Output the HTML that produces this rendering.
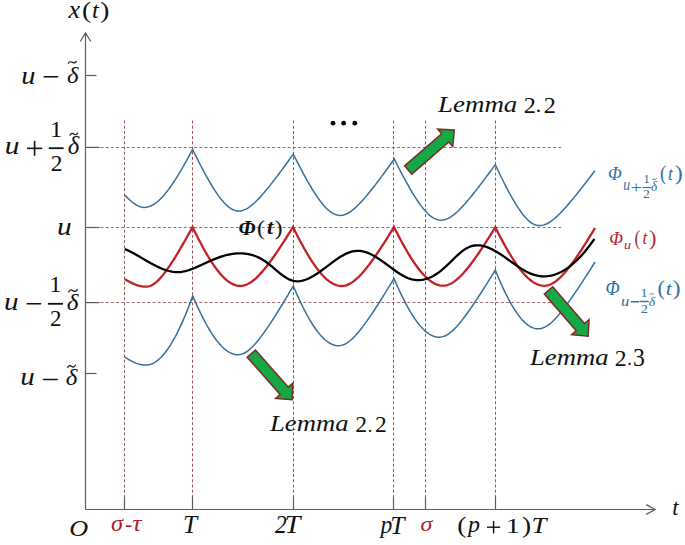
<!DOCTYPE html>
<html><head><meta charset="utf-8"><style>
html,body{margin:0;padding:0;background:#fff;}
body{width:685px;height:545px;overflow:hidden;}
svg{display:block;}
.dv{stroke:#9a5257;stroke-width:1;stroke-dasharray:3 2.2;fill:none;}
.dh{stroke:#a4666a;stroke-width:1;stroke-dasharray:3 2.2;fill:none;}
.ax{stroke:#5c5c5c;stroke-width:1.2;fill:none;}
.cb{stroke:#366e9c;stroke-width:1.5;fill:none;stroke-linejoin:miter;}
.cr{stroke:#c42029;stroke-width:2.3;fill:none;stroke-linejoin:miter;}
.ck{stroke:#000;stroke-width:2.3;fill:none;}
.ar{fill:#14a846;stroke:#7c2a22;stroke-width:1.5;stroke-linejoin:miter;}
text{font-family:"Liberation Serif",serif;}
.it{font-style:italic;}
</style></head><body>
<svg width="685" height="545" viewBox="0 0 685 545">
<rect width="685" height="545" fill="#fff"/>
<line x1="124.5" y1="120.5" x2="124.5" y2="497" class="dv"/>
<line x1="192.5" y1="120.5" x2="192.5" y2="497" class="dv"/>
<line x1="293.5" y1="120.5" x2="293.5" y2="497" class="dv"/>
<line x1="393.5" y1="120.5" x2="393.5" y2="497" class="dv"/>
<line x1="425.5" y1="120.5" x2="425.5" y2="497" class="dv"/>
<line x1="495.5" y1="120.5" x2="495.5" y2="497" class="dv"/>
<line x1="100.5" y1="147.5" x2="562" y2="147.5" class="dh"/>
<line x1="100.5" y1="227.5" x2="562" y2="227.5" class="dh"/>
<line x1="100.5" y1="302.5" x2="562" y2="302.5" class="dh"/>
<path d="M85.5,509.5 V33.5 M80.3,41.5 L85.5,33 L90.8,41.5" class="ax"/>
<path d="M85.5,509.5 H655.5 M646.2,504.6 L655.2,509.5 L646.2,514.4" class="ax"/>
<line x1="85.5" y1="75.5" x2="96.5" y2="75.5" class="ax"/>
<line x1="85.5" y1="147.4" x2="99.5" y2="147.4" class="ax"/>
<line x1="85.5" y1="227.5" x2="99.5" y2="227.5" class="ax"/>
<line x1="85.5" y1="302.6" x2="99.5" y2="302.6" class="ax"/>
<line x1="85.5" y1="373.5" x2="96.5" y2="373.5" class="ax"/>
<line x1="124.5" y1="497" x2="124.5" y2="509.5" class="ax"/>
<line x1="192.5" y1="497" x2="192.5" y2="509.5" class="ax"/>
<line x1="293.5" y1="497" x2="293.5" y2="509.5" class="ax"/>
<line x1="393.5" y1="497" x2="393.5" y2="509.5" class="ax"/>
<line x1="425.5" y1="497" x2="425.5" y2="509.5" class="ax"/>
<line x1="495.5" y1="497" x2="495.5" y2="509.5" class="ax"/>
<path d="M124.80,195.20 L125.45,195.85 L126.09,196.49 L126.74,197.13 L127.39,197.75 L128.03,198.36 L128.68,198.96 L129.33,199.55 L129.97,200.13 L130.62,200.69 L131.27,201.24 L131.91,201.78 L132.56,202.29 L133.21,202.79 L133.85,203.27 L134.50,203.73 L135.15,204.17 L135.79,204.59 L136.44,204.98 L137.09,205.35 L137.73,205.69 L138.38,206.00 L139.03,206.29 L139.67,206.54 L140.32,206.77 L140.97,206.96 L141.61,207.12 L142.26,207.24 L142.91,207.33 L143.55,207.38 L144.20,207.40 L145.81,207.31 L147.43,207.05 L149.04,206.62 L150.65,206.01 L152.27,205.24 L153.88,204.31 L155.49,203.23 L157.11,201.99 L158.72,200.60 L160.33,199.08 L161.95,197.43 L163.56,195.66 L165.17,193.77 L166.79,191.76 L168.40,189.66 L170.01,187.45 L171.63,185.16 L173.24,182.78 L174.85,180.32 L176.47,177.79 L178.08,175.18 L179.69,172.52 L181.31,169.79 L182.92,167.00 L184.53,164.17 L186.15,161.28 L187.76,158.35 L189.37,155.37 L190.99,152.35 L192.60,149.30 L194.14,152.46 L195.67,155.59 L197.21,158.68 L198.75,161.74 L200.28,164.75 L201.82,167.71 L203.36,170.63 L204.89,173.49 L206.43,176.30 L207.97,179.05 L209.50,181.73 L211.04,184.33 L212.58,186.87 L214.11,189.31 L215.65,191.67 L217.19,193.93 L218.72,196.09 L220.26,198.13 L221.80,200.06 L223.33,201.85 L224.87,203.51 L226.41,205.03 L227.94,206.38 L229.48,207.58 L231.02,208.61 L232.55,209.46 L234.09,210.13 L235.63,210.61 L237.16,210.90 L238.70,211.00 L240.52,210.88 L242.34,210.51 L244.16,209.91 L245.98,209.09 L247.80,208.06 L249.62,206.84 L251.44,205.46 L253.26,203.93 L255.08,202.27 L256.90,200.50 L258.72,198.62 L260.54,196.66 L262.36,194.62 L264.18,192.52 L266.00,190.35 L267.82,188.14 L269.64,185.88 L271.46,183.58 L273.28,181.25 L275.10,178.88 L276.92,176.49 L278.74,174.07 L280.56,171.63 L282.38,169.17 L284.20,166.70 L286.02,164.21 L287.84,161.70 L289.66,159.18 L291.48,156.64 L293.30,154.10 L294.86,157.23 L296.42,160.33 L297.98,163.39 L299.54,166.41 L301.10,169.40 L302.66,172.34 L304.22,175.23 L305.78,178.07 L307.34,180.86 L308.90,183.58 L310.46,186.24 L312.02,188.83 L313.58,191.35 L315.14,193.78 L316.70,196.12 L318.26,198.37 L319.82,200.52 L321.38,202.56 L322.94,204.47 L324.50,206.26 L326.06,207.92 L327.62,209.43 L329.18,210.79 L330.74,211.98 L332.30,213.01 L333.86,213.86 L335.42,214.53 L336.98,215.01 L338.54,215.30 L340.10,215.40 L341.91,215.28 L343.71,214.92 L345.52,214.32 L347.33,213.51 L349.13,212.50 L350.94,211.30 L352.75,209.93 L354.55,208.42 L356.36,206.78 L358.17,205.02 L359.97,203.16 L361.78,201.22 L363.59,199.20 L365.39,197.12 L367.20,194.97 L369.01,192.78 L370.81,190.54 L372.62,188.26 L374.43,185.94 L376.23,183.60 L378.04,181.22 L379.85,178.83 L381.65,176.40 L383.46,173.96 L385.27,171.51 L387.07,169.03 L388.88,166.54 L390.69,164.04 L392.49,161.53 L394.30,159.00 L395.86,162.13 L397.41,165.22 L398.97,168.28 L400.53,171.30 L402.08,174.28 L403.64,177.22 L405.20,180.10 L406.75,182.94 L408.31,185.72 L409.87,188.44 L411.42,191.10 L412.98,193.69 L414.54,196.20 L416.09,198.63 L417.65,200.97 L419.21,203.21 L420.76,205.35 L422.32,207.39 L423.88,209.30 L425.43,211.09 L426.99,212.74 L428.55,214.24 L430.10,215.60 L431.66,216.79 L433.22,217.82 L434.77,218.67 L436.33,219.33 L437.89,219.81 L439.44,220.10 L441.00,220.20 L442.81,220.08 L444.62,219.72 L446.43,219.14 L448.24,218.34 L450.05,217.33 L451.86,216.15 L453.67,214.80 L455.48,213.31 L457.29,211.69 L459.10,209.96 L460.91,208.13 L462.72,206.21 L464.53,204.22 L466.34,202.17 L468.15,200.05 L469.96,197.89 L471.77,195.68 L473.58,193.43 L475.39,191.15 L477.20,188.84 L479.01,186.50 L480.82,184.14 L482.63,181.75 L484.44,179.35 L486.25,176.92 L488.06,174.49 L489.87,172.03 L491.68,169.57 L493.49,167.09 L495.30,164.60 L496.77,167.76 L498.25,170.88 L499.72,173.96 L501.19,177.01 L502.67,180.01 L504.14,182.96 L505.61,185.86 L507.09,188.70 L508.56,191.49 L510.03,194.21 L511.51,196.87 L512.98,199.45 L514.45,201.95 L515.93,204.36 L517.40,206.69 L518.87,208.91 L520.35,211.03 L521.82,213.04 L523.29,214.93 L524.77,216.69 L526.24,218.31 L527.71,219.79 L529.19,221.11 L530.66,222.28 L532.13,223.28 L533.61,224.11 L535.08,224.76 L536.55,225.22 L538.03,225.51 L539.50,225.60 L541.34,225.48 L543.19,225.12 L545.03,224.54 L546.87,223.74 L548.72,222.75 L550.56,221.57 L552.40,220.23 L554.25,218.75 L556.09,217.15 L557.93,215.43 L559.78,213.62 L561.62,211.73 L563.46,209.77 L565.31,207.74 L567.15,205.65 L568.99,203.52 L570.84,201.35 L572.68,199.13 L574.52,196.89 L576.37,194.61 L578.21,192.31 L580.05,189.99 L581.90,187.64 L583.74,185.28 L585.58,182.90 L587.43,180.51 L589.27,178.10 L591.11,175.68 L592.96,173.24 L594.80,170.80" class="cb"/>
<path d="M125.00,357.20 L125.69,357.64 L126.38,358.08 L127.07,358.50 L127.76,358.92 L128.45,359.33 L129.14,359.73 L129.83,360.12 L130.52,360.51 L131.21,360.88 L131.90,361.23 L132.59,361.58 L133.28,361.91 L133.97,362.23 L134.66,362.54 L135.35,362.83 L136.04,363.11 L136.73,363.37 L137.42,363.62 L138.11,363.85 L138.80,364.06 L139.49,364.25 L140.18,364.43 L140.87,364.58 L141.56,364.72 L142.25,364.83 L142.94,364.93 L143.63,365.00 L144.32,365.06 L145.01,365.09 L145.70,365.10 L147.27,365.02 L148.83,364.77 L150.40,364.36 L151.97,363.79 L153.53,363.06 L155.10,362.16 L156.67,361.11 L158.23,359.89 L159.80,358.51 L161.37,356.98 L162.93,355.29 L164.50,353.44 L166.07,351.45 L167.63,349.30 L169.20,347.00 L170.77,344.55 L172.33,341.95 L173.90,339.21 L175.47,336.33 L177.03,333.31 L178.60,330.15 L180.17,326.86 L181.73,323.43 L183.30,319.87 L184.87,316.18 L186.43,312.37 L188.00,308.43 L189.57,304.37 L191.13,300.19 L192.70,295.90 L194.21,299.39 L195.72,302.80 L197.23,306.12 L198.74,309.37 L200.25,312.53 L201.76,315.60 L203.27,318.57 L204.78,321.46 L206.29,324.24 L207.80,326.92 L209.31,329.50 L210.82,331.97 L212.33,334.32 L213.84,336.57 L215.35,338.69 L216.86,340.70 L218.37,342.58 L219.88,344.33 L221.39,345.96 L222.90,347.45 L224.41,348.81 L225.92,350.04 L227.43,351.12 L228.94,352.07 L230.45,352.87 L231.96,353.53 L233.47,354.04 L234.98,354.41 L236.49,354.63 L238.00,354.70 L239.84,354.56 L241.69,354.14 L243.53,353.45 L245.37,352.50 L247.22,351.31 L249.06,349.90 L250.90,348.28 L252.75,346.49 L254.59,344.53 L256.43,342.43 L258.28,340.20 L260.12,337.86 L261.96,335.42 L263.81,332.89 L265.65,330.28 L267.49,327.61 L269.34,324.87 L271.18,322.08 L273.02,319.25 L274.87,316.37 L276.71,313.45 L278.55,310.50 L280.40,307.52 L282.24,304.51 L284.08,301.47 L285.93,298.42 L287.77,295.34 L289.61,292.24 L291.46,289.13 L293.30,286.00 L294.81,289.54 L296.32,293.00 L297.83,296.38 L299.34,299.67 L300.85,302.88 L302.36,306.00 L303.87,309.02 L305.38,311.95 L306.89,314.77 L308.40,317.50 L309.91,320.11 L311.42,322.62 L312.93,325.01 L314.44,327.29 L315.95,329.45 L317.46,331.48 L318.97,333.39 L320.48,335.17 L321.99,336.83 L323.50,338.34 L325.01,339.72 L326.52,340.97 L328.03,342.07 L329.54,343.03 L331.05,343.84 L332.56,344.51 L334.07,345.03 L335.58,345.40 L337.09,345.63 L338.60,345.70 L340.45,345.56 L342.29,345.15 L344.14,344.47 L345.99,343.55 L347.83,342.38 L349.68,341.00 L351.53,339.43 L353.37,337.67 L355.22,335.76 L357.07,333.70 L358.91,331.53 L360.76,329.24 L362.61,326.85 L364.45,324.38 L366.30,321.84 L368.15,319.23 L369.99,316.56 L371.84,313.83 L373.69,311.06 L375.53,308.25 L377.38,305.40 L379.23,302.52 L381.07,299.61 L382.92,296.67 L384.77,293.71 L386.61,290.72 L388.46,287.72 L390.31,284.69 L392.15,281.66 L394.00,278.60 L395.51,282.08 L397.01,285.47 L398.52,288.79 L400.03,292.03 L401.53,295.18 L403.04,298.24 L404.55,301.20 L406.05,304.07 L407.56,306.85 L409.07,309.52 L410.57,312.09 L412.08,314.55 L413.59,316.90 L415.09,319.13 L416.60,321.25 L418.11,323.25 L419.61,325.12 L421.12,326.87 L422.63,328.49 L424.13,329.98 L425.64,331.34 L427.15,332.55 L428.65,333.63 L430.16,334.58 L431.67,335.37 L433.17,336.03 L434.68,336.54 L436.19,336.91 L437.69,337.13 L439.20,337.20 L441.07,337.06 L442.94,336.65 L444.81,335.96 L446.68,335.03 L448.55,333.85 L450.42,332.46 L452.29,330.88 L454.16,329.11 L456.03,327.19 L457.90,325.13 L459.77,322.94 L461.64,320.65 L463.51,318.25 L465.38,315.78 L467.25,313.23 L469.12,310.61 L470.99,307.94 L472.86,305.21 L474.73,302.44 L476.60,299.63 L478.47,296.78 L480.34,293.90 L482.21,290.99 L484.08,288.05 L485.95,285.09 L487.82,282.11 L489.69,279.11 L491.56,276.09 L493.43,273.05 L495.30,270.00 L496.73,273.51 L498.16,276.95 L499.59,280.30 L501.02,283.56 L502.45,286.74 L503.88,289.82 L505.31,292.80 L506.74,295.69 L508.17,298.48 L509.60,301.16 L511.03,303.74 L512.46,306.20 L513.89,308.55 L515.32,310.79 L516.75,312.91 L518.18,314.90 L519.61,316.77 L521.04,318.52 L522.47,320.13 L523.90,321.62 L525.33,322.97 L526.76,324.18 L528.19,325.26 L529.62,326.19 L531.05,326.99 L532.48,327.64 L533.91,328.15 L535.34,328.51 L536.77,328.73 L538.20,328.80 L540.09,328.66 L541.99,328.24 L543.88,327.56 L545.77,326.62 L547.67,325.45 L549.56,324.06 L551.45,322.48 L553.35,320.71 L555.24,318.80 L557.13,316.74 L559.03,314.56 L560.92,312.28 L562.81,309.90 L564.71,307.43 L566.60,304.90 L568.49,302.30 L570.39,299.64 L572.28,296.93 L574.17,294.18 L576.07,291.39 L577.96,288.56 L579.85,285.70 L581.75,282.81 L583.64,279.90 L585.53,276.96 L587.43,274.00 L589.32,271.03 L591.21,268.03 L593.11,265.02 L595.00,262.00" class="cb"/>
<path d="M124.80,279.20 L125.51,279.62 L126.21,280.03 L126.92,280.43 L127.63,280.83 L128.33,281.22 L129.04,281.60 L129.75,281.97 L130.45,282.33 L131.16,282.68 L131.87,283.02 L132.57,283.35 L133.28,283.66 L133.99,283.97 L134.69,284.26 L135.40,284.54 L136.11,284.80 L136.81,285.05 L137.52,285.29 L138.23,285.50 L138.93,285.71 L139.64,285.89 L140.35,286.06 L141.05,286.21 L141.76,286.34 L142.47,286.45 L143.17,286.54 L143.88,286.61 L144.59,286.66 L145.29,286.69 L146.00,286.70 L147.55,286.59 L149.10,286.26 L150.65,285.71 L152.20,284.96 L153.75,284.01 L155.30,282.88 L156.85,281.57 L158.40,280.10 L159.95,278.49 L161.50,276.74 L163.05,274.87 L164.60,272.89 L166.15,270.82 L167.70,268.65 L169.25,266.40 L170.80,264.09 L172.35,261.70 L173.90,259.26 L175.45,256.77 L177.00,254.23 L178.55,251.65 L180.10,249.02 L181.65,246.36 L183.20,243.67 L184.75,240.96 L186.30,238.21 L187.85,235.44 L189.40,232.65 L190.95,229.83 L192.50,227.00 L194.09,230.28 L195.69,233.51 L197.28,236.68 L198.87,239.79 L200.47,242.84 L202.06,245.81 L203.65,248.72 L205.25,251.55 L206.84,254.31 L208.43,256.98 L210.03,259.56 L211.62,262.05 L213.21,264.44 L214.81,266.73 L216.40,268.92 L217.99,271.00 L219.59,272.96 L221.18,274.79 L222.77,276.51 L224.37,278.09 L225.96,279.54 L227.55,280.85 L229.15,282.02 L230.74,283.04 L232.33,283.90 L233.93,284.62 L235.52,285.18 L237.11,285.58 L238.71,285.82 L240.30,285.90 L242.06,285.80 L243.81,285.48 L245.57,284.97 L247.33,284.26 L249.08,283.35 L250.84,282.27 L252.60,281.02 L254.35,279.61 L256.11,278.06 L257.87,276.37 L259.62,274.56 L261.38,272.64 L263.14,270.61 L264.89,268.49 L266.65,266.29 L268.41,264.01 L270.16,261.66 L271.92,259.24 L273.68,256.77 L275.43,254.25 L277.19,251.68 L278.95,249.07 L280.70,246.42 L282.46,243.73 L284.22,241.01 L285.97,238.26 L287.73,235.48 L289.49,232.68 L291.24,229.85 L293.00,227.00 L294.62,230.28 L296.24,233.50 L297.86,236.67 L299.48,239.77 L301.10,242.82 L302.72,245.80 L304.34,248.70 L305.96,251.54 L307.58,254.29 L309.20,256.96 L310.82,259.55 L312.44,262.04 L314.06,264.44 L315.68,266.74 L317.30,268.93 L318.92,271.02 L320.54,272.98 L322.16,274.83 L323.78,276.55 L325.40,278.14 L327.02,279.60 L328.64,280.92 L330.26,282.09 L331.88,283.12 L333.50,283.99 L335.12,284.71 L336.74,285.27 L338.36,285.68 L339.98,285.92 L341.60,286.00 L343.35,285.90 L345.09,285.58 L346.84,285.07 L348.59,284.36 L350.33,283.46 L352.08,282.38 L353.83,281.13 L355.57,279.72 L357.32,278.16 L359.07,276.48 L360.81,274.66 L362.56,272.74 L364.31,270.71 L366.05,268.59 L367.80,266.38 L369.55,264.10 L371.29,261.75 L373.04,259.33 L374.79,256.85 L376.53,254.32 L378.28,251.75 L380.03,249.13 L381.77,246.47 L383.52,243.78 L385.27,241.05 L387.01,238.29 L388.76,235.50 L390.51,232.69 L392.25,229.86 L394.00,227.00 L395.63,230.25 L397.27,233.46 L398.90,236.60 L400.53,239.69 L402.17,242.71 L403.80,245.67 L405.43,248.56 L407.07,251.38 L408.70,254.12 L410.33,256.78 L411.97,259.35 L413.60,261.83 L415.23,264.22 L416.87,266.51 L418.50,268.69 L420.13,270.77 L421.77,272.73 L423.40,274.57 L425.03,276.28 L426.67,277.87 L428.30,279.32 L429.93,280.63 L431.57,281.80 L433.20,282.82 L434.83,283.70 L436.47,284.41 L438.10,284.97 L439.73,285.38 L441.37,285.62 L443.00,285.70 L444.74,285.60 L446.49,285.29 L448.23,284.78 L449.97,284.07 L451.72,283.18 L453.46,282.11 L455.20,280.87 L456.95,279.48 L458.69,277.94 L460.43,276.26 L462.18,274.47 L463.92,272.56 L465.66,270.55 L467.41,268.45 L469.15,266.26 L470.89,263.99 L472.64,261.66 L474.38,259.26 L476.12,256.81 L477.87,254.30 L479.61,251.75 L481.35,249.15 L483.10,246.51 L484.84,243.84 L486.58,241.14 L488.33,238.40 L490.07,235.64 L491.81,232.85 L493.56,230.03 L495.30,227.20 L496.93,230.45 L498.56,233.65 L500.19,236.79 L501.82,239.87 L503.45,242.89 L505.08,245.85 L506.71,248.73 L508.34,251.55 L509.97,254.28 L511.60,256.94 L513.23,259.50 L514.86,261.98 L516.49,264.37 L518.12,266.65 L519.75,268.83 L521.38,270.90 L523.01,272.85 L524.64,274.69 L526.27,276.40 L527.90,277.99 L529.53,279.43 L531.16,280.74 L532.79,281.91 L534.42,282.93 L536.05,283.80 L537.68,284.52 L539.31,285.08 L540.94,285.48 L542.57,285.72 L544.20,285.80 L545.89,285.70 L547.59,285.40 L549.28,284.90 L550.97,284.22 L552.67,283.35 L554.36,282.30 L556.05,281.09 L557.75,279.73 L559.44,278.22 L561.13,276.58 L562.83,274.82 L564.52,272.94 L566.21,270.96 L567.91,268.89 L569.60,266.74 L571.29,264.50 L572.99,262.20 L574.68,259.83 L576.37,257.40 L578.07,254.92 L579.76,252.39 L581.45,249.81 L583.15,247.20 L584.84,244.54 L586.53,241.86 L588.23,239.14 L589.92,236.39 L591.61,233.62 L593.31,230.82 L595.00,228.00" class="cr"/>
<path d="M124.70,248.98 L126.67,249.85 L128.63,250.78 L130.60,251.76 L132.56,252.79 L134.53,253.86 L136.49,254.96 L138.46,256.08 L140.42,257.22 L142.39,258.37 L144.35,259.52 L146.32,260.66 L148.28,261.80 L150.25,262.91 L152.21,263.99 L154.18,265.03 L156.14,266.04 L158.11,266.99 L160.07,267.89 L162.04,268.72 L164.01,269.47 L165.97,270.15 L167.94,270.74 L169.90,271.24 L171.87,271.63 L173.83,271.91 L175.80,272.08 L177.76,272.12 L179.73,272.04 L181.69,271.82 L183.66,271.49 L185.62,271.05 L187.59,270.52 L189.55,269.90 L191.52,269.21 L193.48,268.45 L195.45,267.64 L197.42,266.78 L199.38,265.89 L201.35,264.98 L203.31,264.06 L205.28,263.14 L207.24,262.22 L209.21,261.33 L211.17,260.46 L213.14,259.63 L215.10,258.83 L217.07,258.07 L219.03,257.36 L221.00,256.69 L222.96,256.07 L224.93,255.50 L226.89,254.99 L228.86,254.54 L230.82,254.16 L232.79,253.84 L234.76,253.59 L236.72,253.42 L238.69,253.32 L240.65,253.30 L242.62,253.37 L244.58,253.53 L246.55,253.78 L248.51,254.12 L250.48,254.56 L252.44,255.10 L254.41,255.75 L256.37,256.50 L258.34,257.37 L260.30,258.35 L262.27,259.45 L264.23,260.67 L266.20,262.02 L268.16,263.49 L270.13,265.05 L272.10,266.68 L274.06,268.35 L276.03,270.03 L277.99,271.69 L279.96,273.30 L281.92,274.84 L283.89,276.27 L285.85,277.57 L287.82,278.72 L289.78,279.67 L291.75,280.41 L293.71,280.92 L295.68,281.21 L297.64,281.29 L299.61,281.17 L301.57,280.87 L303.54,280.41 L305.51,279.78 L307.47,279.02 L309.44,278.12 L311.40,277.11 L313.37,275.99 L315.33,274.78 L317.30,273.50 L319.26,272.15 L321.23,270.74 L323.19,269.30 L325.16,267.82 L327.12,266.34 L329.09,264.85 L331.05,263.37 L333.02,261.91 L334.98,260.49 L336.95,259.11 L338.91,257.80 L340.88,256.56 L342.85,255.41 L344.81,254.36 L346.78,253.41 L348.74,252.60 L350.71,251.92 L352.67,251.38 L354.64,251.02 L356.60,250.82 L358.57,250.81 L360.53,250.97 L362.50,251.30 L364.46,251.78 L366.43,252.40 L368.39,253.15 L370.36,254.02 L372.32,255.00 L374.29,256.07 L376.25,257.24 L378.22,258.48 L380.19,259.79 L382.15,261.15 L384.12,262.55 L386.08,263.99 L388.05,265.45 L390.01,266.91 L391.98,268.37 L393.94,269.80 L395.91,271.20 L397.87,272.54 L399.84,273.82 L401.80,275.02 L403.77,276.12 L405.73,277.12 L407.70,277.99 L409.66,278.72 L411.63,279.30 L413.59,279.73 L415.56,280.00 L417.53,280.12 L419.49,280.09 L421.46,279.92 L423.42,279.60 L425.39,279.14 L427.35,278.54 L429.32,277.80 L431.28,276.93 L433.25,275.93 L435.21,274.79 L437.18,273.52 L439.14,272.13 L441.11,270.62 L443.07,268.98 L445.04,267.23 L447.00,265.39 L448.97,263.49 L450.94,261.56 L452.90,259.62 L454.87,257.70 L456.83,255.83 L458.80,254.03 L460.76,252.34 L462.73,250.79 L464.69,249.39 L466.66,248.18 L468.62,247.19 L470.59,246.41 L472.55,245.85 L474.52,245.48 L476.48,245.30 L478.45,245.30 L480.41,245.47 L482.38,245.79 L484.34,246.26 L486.31,246.86 L488.28,247.59 L490.24,248.43 L492.21,249.38 L494.17,250.42 L496.14,251.54 L498.10,252.74 L500.07,254.00 L502.03,255.31 L504.00,256.66 L505.96,258.04 L507.93,259.44 L509.89,260.84 L511.86,262.25 L513.82,263.65 L515.79,265.02 L517.75,266.36 L519.72,267.66 L521.68,268.90 L523.65,270.08 L525.62,271.19 L527.58,272.21 L529.55,273.13 L531.51,273.95 L533.48,274.65 L535.44,275.23 L537.41,275.68 L539.37,276.02 L541.34,276.24 L543.30,276.34 L545.27,276.33 L547.23,276.19 L549.20,275.94 L551.16,275.57 L553.13,275.08 L555.09,274.48 L557.06,273.76 L559.03,272.93 L560.99,271.98 L562.96,270.92 L564.92,269.75 L566.89,268.46 L568.85,267.07 L570.82,265.56 L572.78,263.93 L574.75,262.20 L576.71,260.36 L578.68,258.41 L580.64,256.35 L582.61,254.18 L584.57,251.90 L586.54,249.51 L588.50,247.02 L590.47,244.42 L592.43,241.71 L594.40,238.90" class="ck"/>
<polygon points="404.60,165.85 441.63,133.71 437.70,129.18 454.30,130.00 452.77,146.55 448.84,142.02 411.80,174.15" class="ar"/>
<polygon points="255.42,349.95 288.36,387.17 292.86,383.19 292.20,399.80 275.64,398.44 280.13,394.46 247.18,357.25" class="ar"/>
<polygon points="552.66,286.80 584.50,323.53 589.03,319.60 588.20,336.20 571.65,334.66 576.18,330.73 544.34,294.00" class="ar"/>
<circle cx="333.0" cy="123.2" r="2.4" fill="#000"/>
<circle cx="343.6" cy="123.2" r="2.4" fill="#000"/>
<circle cx="354.8" cy="123.2" r="2.4" fill="#000"/>
<g font-family="Liberation Serif">
<text transform="translate(68.41 17.90) scale(1.052 1)" font-size="24.96" font-style="italic" fill="#111">x</text>
<text transform="translate(82.10 18.20) scale(1.150 1)" font-size="23.76" fill="#111">(</text>
<text transform="translate(91.93 17.53) scale(1.048 1)" font-size="23.41" font-style="italic" fill="#111">t</text>
<text transform="translate(100.22 18.20) scale(1.150 1)" font-size="23.76" fill="#111">)</text>
<text transform="translate(21.25 83.51) scale(1.150 1)" font-size="24.77" font-style="italic" fill="#111">u</text>
<text transform="translate(42.05 86.28) scale(1.150 1)" font-size="27.20" fill="#111">−</text>
<text transform="translate(67.01 82.64) scale(1.065 1)" font-size="23.23" font-style="italic" fill="#111">δ</text>
<path d="M68.30,63.20 C69.25,61.49 70.83,61.40 72.25,62.30 S75.25,63.11 76.20,61.40" fill="none" stroke="#111" stroke-width="1.2" stroke-linecap="round"/>
<text transform="translate(4.76 154.30) scale(1.150 1)" font-size="25.60" font-style="italic" fill="#111">u</text>
<text transform="translate(50.08 136.90) scale(1.050 1)" font-size="23.37" fill="#111">1</text>
<text transform="translate(50.67 171.10) scale(1.058 1)" font-size="22.18" fill="#111">2</text>
<text transform="translate(67.81 154.31) scale(0.999 1)" font-size="24.77" font-style="italic" fill="#111">δ</text>
<path d="M70.00,135.10 C70.92,133.20 72.46,133.10 73.85,134.10 S76.78,135.00 77.70,133.10" fill="none" stroke="#111" stroke-width="1.2" stroke-linecap="round"/>
<text transform="translate(57.06 234.80) scale(1.150 1)" font-size="25.60" font-style="italic" fill="#111">u</text>
<text transform="translate(4.12 310.00) scale(1.150 1)" font-size="25.39" font-style="italic" fill="#111">u</text>
<text transform="translate(25.00 312.87) scale(1.150 1)" font-size="27.20" fill="#111">−</text>
<text transform="translate(49.28 291.50) scale(1.070 1)" font-size="22.92" fill="#111">1</text>
<text transform="translate(49.98 326.40) scale(1.037 1)" font-size="22.18" fill="#111">2</text>
<text transform="translate(66.71 310.14) scale(1.097 1)" font-size="22.96" font-style="italic" fill="#111">δ</text>
<path d="M68.70,291.90 C69.73,289.62 71.45,289.50 73.00,290.70 S76.27,291.78 77.30,289.50" fill="none" stroke="#111" stroke-width="1.2" stroke-linecap="round"/>
<text transform="translate(20.13 385.21) scale(1.150 1)" font-size="25.19" font-style="italic" fill="#111">u</text>
<text transform="translate(41.31 388.95) scale(1.104 1)" font-size="28.80" fill="#111">−</text>
<text transform="translate(65.71 385.24) scale(1.081 1)" font-size="23.10" font-style="italic" fill="#111">δ</text>
<path d="M67.70,367.50 C68.62,365.22 70.16,365.10 71.55,366.30 S74.48,367.38 75.40,365.10" fill="none" stroke="#111" stroke-width="1.2" stroke-linecap="round"/>
<text transform="translate(69.17 535.93) scale(1.099 1)" font-size="23.85" font-style="italic" fill="#111">O</text>
<text transform="translate(111.12 530.65) scale(1.100 1)" font-size="22.21" font-style="italic" fill="#b01e2a">σ</text>
<text transform="translate(124.92 530.80) scale(1.077 1)" font-size="20.27" fill="#b01e2a">-</text>
<text transform="translate(132.20 530.93) scale(1.088 1)" font-size="23.54" font-style="italic" fill="#b01e2a">τ</text>
<text transform="translate(183.11 533.20) scale(0.987 1)" font-size="25.75" font-style="italic" fill="#111">T</text>
<text transform="translate(274.90 533.20) scale(0.936 1)" font-size="25.15" font-style="italic" fill="#111">2</text>
<text transform="translate(284.51 533.20) scale(1.111 1)" font-size="25.75" font-style="italic" fill="#111">T</text>
<text transform="translate(380.47 533.39) scale(0.953 1)" font-size="24.75" font-style="italic" fill="#111">p</text>
<text transform="translate(390.30 533.80) scale(1.024 1)" font-size="24.99" font-style="italic" fill="#111">T</text>
<text transform="translate(420.62 531.27) scale(1.141 1)" font-size="21.08" font-style="italic" fill="#b01e2a">σ</text>
<text transform="translate(457.15 532.50) scale(1.150 1)" font-size="23.76" fill="#111">(</text>
<text transform="translate(468.10 531.77) scale(1.003 1)" font-size="23.89" font-style="italic" fill="#111">p</text>
<text transform="translate(505.77 533.00) scale(1.350 1)" font-size="21.13" fill="#111">1</text>
<text transform="translate(521.92 532.50) scale(1.150 1)" font-size="23.76" fill="#111">)</text>
<text transform="translate(531.42 533.40) scale(1.150 1)" font-size="23.47" font-style="italic" fill="#111">T</text>
<text transform="translate(672.29 515.05) scale(1.008 1)" font-size="22.57" font-style="italic" fill="#111">t</text>
<text transform="translate(438.02 111.84) scale(1.168 1)" font-size="23.07" font-style="italic" fill="#111">Lemma</text>
<text transform="translate(523.64 112.70) scale(1.015 1)" font-size="23.81" fill="#111">2</text>
<text transform="translate(535.85 112.38) scale(1.038 1)" font-size="20.80" fill="#111">.</text>
<text transform="translate(543.74 112.70) scale(1.015 1)" font-size="23.81" fill="#111">2</text>
<text transform="translate(270.02 431.15) scale(1.194 1)" font-size="22.33" font-style="italic" fill="#111">Lemma</text>
<text transform="translate(355.36 432.10) scale(0.995 1)" font-size="23.81" fill="#111">2</text>
<text transform="translate(367.85 431.81) scale(1.000 1)" font-size="18.40" fill="#111">.</text>
<text transform="translate(374.97 432.10) scale(0.985 1)" font-size="23.81" fill="#111">2</text>
<text transform="translate(530.02 364.75) scale(1.187 1)" font-size="22.47" font-style="italic" fill="#111">Lemma</text>
<text transform="translate(614.76 365.60) scale(1.008 1)" font-size="23.52" fill="#111">2</text>
<text transform="translate(627.25 365.30) scale(0.958 1)" font-size="19.20" fill="#111">.</text>
<text transform="translate(633.09 365.72) scale(0.982 1)" font-size="24.15" fill="#111">3</text>
<text transform="translate(238.42 234.60) scale(1.050 1)" font-size="20.57" font-style="italic" font-weight="bold" fill="#111">Φ</text>
<text transform="translate(256.93 234.89) scale(1.150 1)" font-size="20.61" fill="#111">(</text>
<text transform="translate(267.05 233.88) scale(1.100 1)" font-size="20.21" font-style="italic" font-weight="bold" fill="#111">t</text>
<text transform="translate(274.67 234.89) scale(1.133 1)" font-size="20.61" fill="#111">)</text>
<text transform="translate(607.95 180.20) scale(0.933 1)" font-size="19.35" font-style="italic" fill="#2f6fa6">Φ</text>
<text transform="translate(623.16 190.45) scale(0.876 1)" font-size="15.69" font-style="italic" fill="#2f6fa6">u</text>
<text transform="translate(630.80 192.95) scale(1.094 1)" font-size="17.55" fill="#2f6fa6">+</text>
<text transform="translate(643.16 182.80) scale(0.995 1)" font-size="13.40" fill="#2f6fa6">1</text>
<text transform="translate(642.97 198.30) scale(1.050 1)" font-size="13.10" fill="#2f6fa6">2</text>
<text transform="translate(650.99 190.78) scale(0.932 1)" font-size="14.19" font-style="italic" fill="#2f6fa6">δ</text>
<path d="M652.55,179.55 C653.01,178.79 653.77,178.75 654.45,179.15 S655.89,179.51 656.35,178.75" fill="none" stroke="#2f6fa6" stroke-width="0.9" stroke-linecap="round"/>
<text transform="translate(660.01 180.31) scale(0.939 1)" font-size="20.07" fill="#2f6fa6">(</text>
<text transform="translate(667.94 179.71) scale(0.942 1)" font-size="18.86" font-style="italic" fill="#2f6fa6">t</text>
<text transform="translate(675.11 180.31) scale(1.150 1)" font-size="20.07" fill="#2f6fa6">)</text>
<text transform="translate(609.25 244.80) scale(0.933 1)" font-size="19.35" font-style="italic" fill="#b01e2a">Φ</text>
<text transform="translate(624.04 248.81) scale(1.150 1)" font-size="12.18" font-style="italic" fill="#b01e2a">u</text>
<text transform="translate(634.57 244.83) scale(0.855 1)" font-size="19.96" fill="#b01e2a">(</text>
<text transform="translate(642.47 243.72) scale(0.956 1)" font-size="17.85" font-style="italic" fill="#b01e2a">t</text>
<text transform="translate(649.33 244.83) scale(1.075 1)" font-size="19.96" fill="#b01e2a">)</text>
<text transform="translate(605.53 295.30) scale(0.926 1)" font-size="20.11" font-style="italic" fill="#2f6fa6">Φ</text>
<text transform="translate(621.02 305.67) scale(1.148 1)" font-size="14.45" font-style="italic" fill="#2f6fa6">u</text>
<text transform="translate(640.50 296.60) scale(1.117 1)" font-size="12.65" fill="#2f6fa6">1</text>
<text transform="translate(640.65 312.60) scale(1.079 1)" font-size="13.40" fill="#2f6fa6">2</text>
<text transform="translate(648.79 305.70) scale(1.055 1)" font-size="12.94" font-style="italic" fill="#2f6fa6">δ</text>
<path d="M649.95,294.35 C650.41,293.59 651.17,293.55 651.85,293.95 S653.29,294.31 653.75,293.55" fill="none" stroke="#2f6fa6" stroke-width="0.9" stroke-linecap="round"/>
<text transform="translate(657.51 295.34) scale(1.081 1)" font-size="20.39" fill="#2f6fa6">(</text>
<text transform="translate(665.71 294.80) scale(1.148 1)" font-size="19.20" font-style="italic" fill="#2f6fa6">t</text>
<text transform="translate(672.77 295.34) scale(1.145 1)" font-size="20.39" fill="#2f6fa6">)</text>
<rect x="48.8" y="147.3" width="14.80" height="1.80" fill="#111"/>
<rect x="27" y="147.55" width="15.20" height="1.60" fill="#111"/>
<rect x="33.8" y="140.9" width="1.60" height="14.90" fill="#111"/>
<rect x="487" y="526.5" width="13.20" height="1.40" fill="#111"/>
<rect x="492.9" y="521" width="1.40" height="12.40" fill="#111"/>
<rect x="47.9" y="302.9" width="15.10" height="1.80" fill="#111"/>
<rect x="642.5" y="187.0" width="8.50" height="1.10" fill="#2f6fa6"/>
<rect x="630.8" y="301.0" width="8.20" height="1.50" fill="#2f6fa6"/>
<rect x="639.6" y="300.8" width="9.10" height="1.40" fill="#2f6fa6"/>
</g>

</svg>
</body></html>
